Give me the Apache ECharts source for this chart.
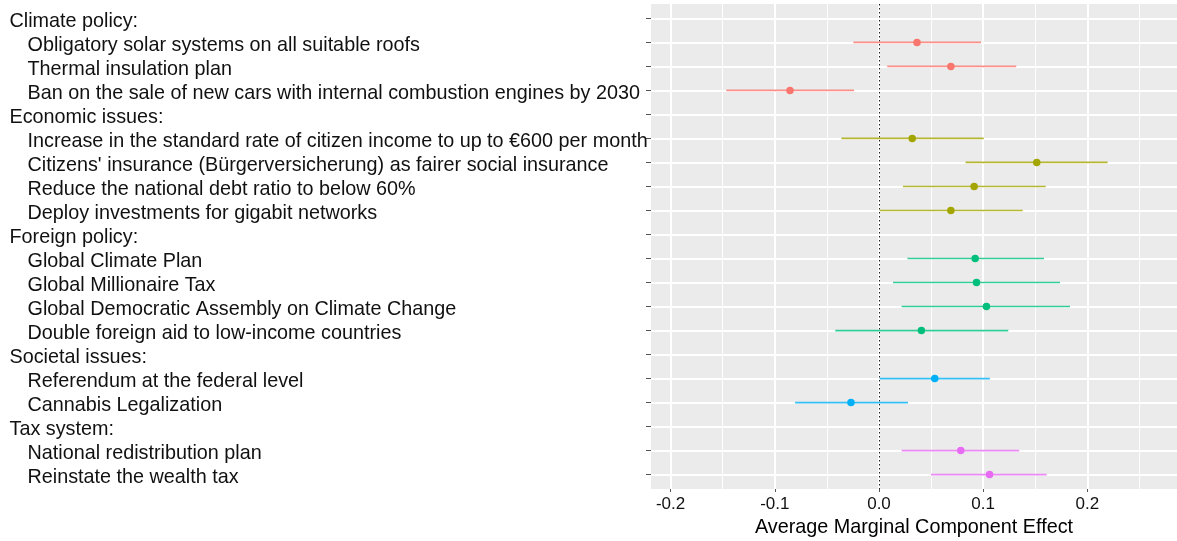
<!DOCTYPE html>
<html>
<head>
<meta charset="utf-8">
<script src="https://cdn.jsdelivr.net/npm/echarts@6/dist/echarts.min.js"></script>
<style>
html,body{margin:0;padding:0;background:#fff;}
#chart{width:1177px;height:541px;}
</style>
</head>
<body>
<div id="chart"></div>
<script>
// Row labels (top to bottom)
const rowLabels = [
  "Climate policy:",
  "Obligatory solar systems on all suitable roofs",
  "Thermal insulation plan",
  "Ban on the sale of new cars with internal combustion engines by 2030",
  "Economic issues:",
  "Increase in the standard rate of citizen income to up to €600 per month",
  "Citizens' insurance (Bürgerversicherung) as fairer social insurance",
  "Reduce the national debt ratio to below 60%",
  "Deploy investments for gigabit networks",
  "Foreign policy:",
  "Global Climate Plan",
  "Global Millionaire Tax",
  "Global Democratic Assembly on Climate Change",
  "Double foreign aid to low-income countries",
  "Societal issues:",
  "Referendum at the federal level",
  "Cannabis Legalization",
  "Tax system:",
  "National redistribution plan",
  "Reinstate the wealth tax"
];
const headerRows = [1, 5, 10, 15, 18];

// Groups
const groupNames = ["Climate policy", "Economic issues", "Foreign policy", "Societal issues", "Tax system"];
const groupColors = ["#F8766D", "#A3A500", "#00BF7D", "#00B0F6", "#E76BF3"];

const climateRows = [2, 3, 4];
const climateEst  = [0.0365, 0.069, -0.0854];
const climateLo   = [-0.0246, 0.0079, -0.1465];
const climateHi   = [0.0979, 0.1317, -0.024];

const economicRows = [6, 7, 8, 9];
const economicEst  = [0.0319, 0.1514, 0.0913, 0.069];
const economicLo   = [-0.0361, 0.0831, 0.023, 0.0007];
const economicHi   = [0.1005, 0.2194, 0.16, 0.1379];

const foreignRows = [11, 12, 13, 14];
const foreignEst  = [0.0923, 0.0936, 0.1031, 0.0407];
const foreignLo   = [0.0273, 0.0135, 0.0217, -0.042];
const foreignHi   = [0.1583, 0.1737, 0.1833, 0.1241];

const societalRows = [16, 17];
const societalEst  = [0.0535, -0.0269];
const societalLo   = [0.0007, -0.0805];
const societalHi   = [0.1064, 0.0279];

const taxRows = [19, 20];
const taxEst  = [0.0785, 0.1061];
const taxLo   = [0.0217, 0.0499];
const taxHi   = [0.1346, 0.1609];

const xTickValues  = [-0.2, -0.1, 0, 0.1, 0.2];
const xMinorValues = [-0.15, -0.05, 0.05, 0.15, 0.25];
const rowIndex = rowLabels.map((_, i) => i + 1);

const groups = [
  [climateRows, climateEst, climateLo, climateHi],
  [economicRows, economicEst, economicLo, economicHi],
  [foreignRows, foreignEst, foreignLo, foreignHi],
  [societalRows, societalEst, societalLo, societalHi],
  [taxRows, taxEst, taxLo, taxHi]
];

const chart = echarts.init(document.getElementById('chart'), null, {renderer: 'canvas'});

const gridMarkData = [];
rowIndex.forEach(r => gridMarkData.push({yAxis: r, lineStyle: {color: '#ffffff', width: 2, type: 'solid'}}));
xMinorValues.forEach(v => gridMarkData.push({xAxis: v, lineStyle: {color: '#ffffff', width: 1, type: 'solid'}}));
xTickValues.forEach(v => gridMarkData.push({xAxis: v, lineStyle: {color: '#ffffff', width: 2, type: 'solid'}}));

const series = [{
  type: 'scatter',
  name: 'grid',
  data: [],
  symbolSize: 0,
  silent: true,
  z: 1,
  markLine: {
    silent: true,
    symbol: ['none', 'none'],
    label: {show: false},
    animation: false,
    z: 1,
    data: gridMarkData
  }
}, {
  type: 'scatter',
  name: 'zero',
  data: [],
  symbolSize: 0,
  silent: true,
  z: 2,
  markLine: {
    silent: true,
    symbol: ['none', 'none'],
    label: {show: false},
    animation: false,
    z: 2,
    data: [{xAxis: 0, lineStyle: {color: '#222', width: 1, type: [1.5, 2.5]}}]
  }
}];

groups.forEach((g, gi) => {
  const [rows, est, lo, hi] = g;
  const color = groupColors[gi];
  series.push({
    type: 'custom',
    name: groupNames[gi] + ' CI',
    z: 3,
    silent: true,
    encode: {x: [0, 1], y: 2},
    data: rows.map((r, i) => [lo[i], hi[i], r]),
    renderItem: function (params, api) {
      const y = api.value(2);
      const p1 = api.coord([api.value(0), y]);
      const p2 = api.coord([api.value(1), y]);
      return {
        type: 'line',
        shape: {x1: p1[0], y1: p1[1], x2: p2[0], y2: p2[1]},
        style: {stroke: color, lineWidth: 1.7, opacity: 0.8}
      };
    }
  });
  series.push({
    type: 'scatter',
    name: groupNames[gi],
    z: 4,
    symbol: 'circle',
    symbolSize: 7.5,
    itemStyle: {color: color, opacity: 1},
    data: rows.map((r, i) => [est[i], r])
  });
});

const option = {
  animation: false,
  backgroundColor: '#ffffff',
  textStyle: {fontFamily: 'Liberation Sans, Arial, sans-serif'},
  grid: {
    left: 651, right: 0, top: 4, bottom: 52,
    show: true, backgroundColor: '#EBEBEB', borderWidth: 0,
    containLabel: false, outerBoundsMode: 'none'
  },
  xAxis: {
    type: 'value',
    min: -0.2188,
    max: 0.286,
    name: 'Average Marginal Component Effect',
    nameLocation: 'middle',
    nameGap: 29,
    nameTextStyle: {color: '#000', fontSize: 19.8, fontFamily: 'Liberation Sans'},
    axisLine: {show: true, onZero: false, lineStyle: {color: 'rgba(0,0,0,0)'}},
    splitLine: {show: false},
    axisTick: {show: true, length: 3, customValues: xTickValues, lineStyle: {color: '#555', width: 1}},
    axisLabel: {
      customValues: xTickValues,
      margin: 7,
      color: '#111',
      fontSize: 17,
      fontFamily: 'Liberation Sans',
      formatter: v => Number(v).toFixed(1)
    }
  },
  yAxis: {
    type: 'value',
    inverse: true,
    min: 0.4,
    max: 20.6,
    axisLine: {show: true, onZero: false, lineStyle: {color: 'rgba(0,0,0,0)'}},
    splitLine: {show: false},
    axisTick: {show: true, length: 5, customValues: rowIndex, lineStyle: {color: '#555', width: 1}},
    axisLabel: {
      customValues: rowIndex,
      align: 'left',
      margin: 641.5,
      color: '#111',
      fontSize: 19.8,
      fontFamily: 'Liberation Sans',
      formatter: function (v) {
        const i = Math.round(v);
        const t = rowLabels[i - 1];
        return headerRows.indexOf(i) >= 0 ? '{h|' + t + '}' : '{i|' + t + '}';
      },
      rich: {
        h: {fontSize: 19.8, color: '#111', fontFamily: 'Liberation Sans', padding: [6, 0, 0, 0]},
        i: {fontSize: 19.8, color: '#111', fontFamily: 'Liberation Sans', padding: [6, 0, 0, 18]}
      }
    }
  },
  series: series
};
chart.setOption(option);
</script>
</body>
</html>
